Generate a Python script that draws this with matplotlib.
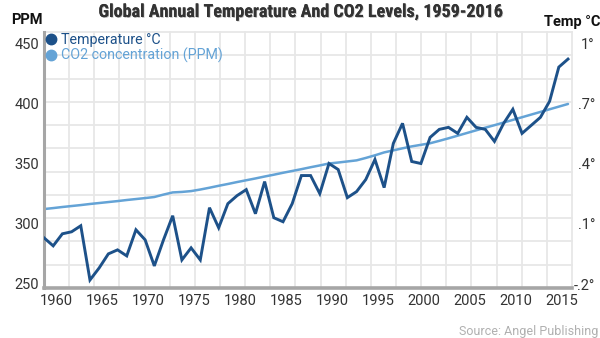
import matplotlib
matplotlib.use("Agg")
import matplotlib.pyplot as plt
import matplotlib.patheffects as pe
from matplotlib import font_manager
from matplotlib.lines import Line2D
from matplotlib.transforms import ScaledTranslation

# ---- data -------------------------------------------------------------
years = list(range(1959, 2017))

temperature = [0.03, -0.01, 0.05, 0.06, 0.09, -0.18, -0.12, -0.05, -0.03, -0.06,
               0.07, 0.02, -0.11, 0.02, 0.14, -0.08, -0.02, -0.08, 0.18, 0.08,
               0.20, 0.24, 0.27, 0.15, 0.31, 0.13, 0.11, 0.20, 0.34, 0.34,
               0.25, 0.40, 0.37, 0.23, 0.26, 0.32, 0.42, 0.28, 0.50, 0.60,
               0.41, 0.40, 0.53, 0.57, 0.58, 0.55, 0.63, 0.58, 0.57, 0.51,
               0.60, 0.67, 0.55, 0.59, 0.63, 0.71, 0.88, 0.92]

co2 = [312.2, 313.0, 313.9, 314.7, 315.5, 316.4, 317.2, 318.0, 318.8, 319.7,
       320.5, 321.3, 322.2, 324.2, 326.0, 326.4, 327.1, 328.4, 329.9, 331.5,
       333.0, 334.6, 336.1, 337.6, 339.2, 340.7, 342.3, 343.8, 345.3, 346.9,
       348.4, 350.0, 350.8, 351.7, 352.6, 354.6, 356.8, 359.2, 360.9, 362.6,
       364.2, 365.5, 366.8, 368.8, 370.9, 373.1, 375.3, 377.5, 379.7, 381.8,
       384.0, 386.2, 388.4, 390.6, 392.8, 395.0, 397.2, 399.4]

year_ticks = list(range(1960, 2016, 5))
ppm_ticks = [250, 300, 350, 400, 450]
temp_ticks = [-0.2, 0.1, 0.4, 0.7, 1.0]
temp_tick_labels = ["-.2°", ".1°", ".4°", ".7°", "1°"]

TEMP_COLOR = "#1d5189"
CO2_COLOR = "#64a3d6"
TEXT_COLOR = "#333333"
AXIS_COLOR = "#a6a6a6"
GRID_COLOR = "#e7e7e7"


def pick_font(candidates, fallback="Roboto"):
    names = {f.name for f in font_manager.fontManager.ttflist}
    for name in candidates:
        if name in names:
            return name
    return fallback


BODY = pick_font(["Roboto", "Liberation Sans"])
NARROW = pick_font(["Roboto Condensed", "Liberation Sans Narrow"], fallback=BODY)

plt.rcParams["font.family"] = [BODY, "DejaVu Sans"]

fig = plt.figure(figsize=(6.0, 3.38), dpi=100)
W, H = 600, 338
rect = [44 / W, 50 / H, 528 / W, 256 / H]

# background grid (independent of the value axes)
gax = fig.add_axes(rect, zorder=0)
gax.set_xlim(0, 21)
gax.set_ylim(0, 11)
gax.set_xticks(range(22))
gax.set_yticks(range(12))
gax.grid(True, color=GRID_COLOR, linewidth=1.3)
gax.tick_params(length=0, labelbottom=False, labelleft=False)
for s in gax.spines.values():
    s.set_visible(False)
for gl in gax.get_xgridlines() + gax.get_ygridlines():
    gl.set_clip_on(False)

# CO2 axis (left)
ax = fig.add_axes(rect, zorder=1)
ax.patch.set_alpha(0)
ax.plot(years, co2, color=CO2_COLOR, linewidth=1.8, solid_capstyle="round")
ax.set_xlim(1959, 2016.435)
ax.set_ylim(246.68, 459.13)
ax.set_xticks(year_ticks)
ax.set_yticks(ppm_ticks)
ax.tick_params(axis="both", length=0, labelsize=10.5, colors=TEXT_COLOR)
ax.tick_params(axis="y", pad=3.5)
ax.tick_params(axis="x", pad=4)
for side in ("top", "right"):
    ax.spines[side].set_visible(False)
ax.spines["left"].set_color(AXIS_COLOR)
ax.spines["left"].set_linewidth(2.2)
ax.spines["bottom"].set_color(AXIS_COLOR)
ax.spines["bottom"].set_linewidth(2.6)
shift = ScaledTranslation(3 / 100, 0, fig.dpi_scale_trans)
for lbl in ax.get_xticklabels():
    lbl.set_transform(lbl.get_transform() + shift)

# temperature axis (right)
ax2 = ax.twinx()
ax2.set_zorder(2)
ax2.patch.set_alpha(0)
ax2.plot(years, temperature, color=TEMP_COLOR, linewidth=2.1,
         solid_joinstyle="miter")
ax2.set_ylim(-0.2199, 1.0548)
ax2.set_yticks(temp_ticks)
ax2.set_yticklabels(temp_tick_labels)
ax2.tick_params(axis="y", length=0, labelsize=10.5, colors=TEXT_COLOR, pad=16.5)
for lbl in ax2.get_yticklabels():
    lbl.set_horizontalalignment("right")
for s in ax2.spines.values():
    s.set_visible(False)

# legend
handles = [
    Line2D([], [], linestyle="none", marker="o", markersize=7.5,
           color=TEMP_COLOR, label="Temperature °C"),
    Line2D([], [], linestyle="none", marker="o", markersize=7.5,
           color=CO2_COLOR, label="CO2 concentration (PPM)"),
]
fig.legend(handles=handles, loc="upper left",
           bbox_to_anchor=(45 / W, 1 - 32 / H), frameon=False,
           fontsize=10.3, handlelength=0.7, handletextpad=0.35,
           labelspacing=0.05, borderpad=0.1, borderaxespad=0,
           labelcolor=[TEMP_COLOR, CO2_COLOR])

# titles and labels
fig.text(0.5, 1 - 12 / H, "Global Annual Temperature And CO2 Levels, 1959-2016",
         ha="center", va="center", fontsize=13, fontweight="bold",
         family=[NARROW, "DejaVu Sans"], fontstretch="condensed",
         color=TEXT_COLOR,
         path_effects=[pe.withSimplePatchShadow(offset=(0.6, -0.6),
                                                shadow_rgbFace="#000000",
                                                alpha=0.25), pe.Normal()])
fig.text(27 / W, 1 - 20 / H, "PPM", ha="center", va="center",
         fontsize=10.5, fontweight="bold", color="#111111")
fig.text(572 / W, 1 - 22 / H, "Temp °C", ha="center", va="center",
         fontsize=10.5, fontweight="bold", color="#111111")
fig.text(598 / W, 1 - 331 / H, "Source: Angel Publishing", ha="right",
         va="center", fontsize=9.0, color="#b0b0b0")

fig.savefig("out.png", dpi=100)
